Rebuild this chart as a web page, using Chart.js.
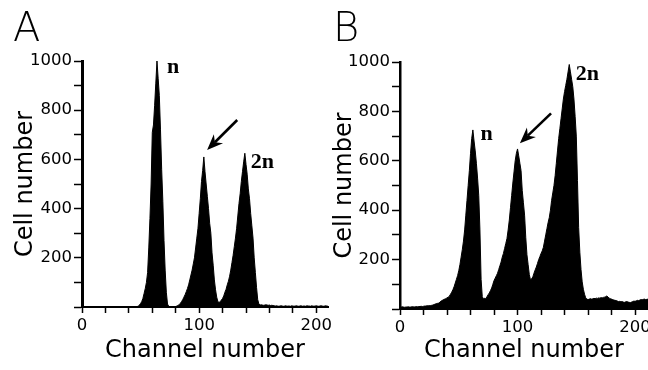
<!DOCTYPE html>
<html><head><meta charset="utf-8">
<script src="https://cdn.jsdelivr.net/npm/chart.js@4/dist/chart.umd.min.js"></script>
<style>
html,body{margin:0;padding:0;background:#fff;width:648px;height:370px;overflow:hidden}
#ca{position:absolute;left:0;top:0}
#cb{position:absolute;left:318px;top:0}
</style></head><body>
<canvas id="ca" width="340" height="370"></canvas>
<canvas id="cb" width="330" height="370"></canvas>
<script>
// ---- data (index = channel number) ----
const panelLetters = ['A', 'B'];
const xTickLabels = [0, 100, 200];
const yTickLabels = [200, 400, 600, 800, 1000];
const xAxisTitle = 'Channel number';
const yAxisTitle = 'Cell number';

const countsA = [
  0,0,0,0,0,0,0,0,0,0,
  0,0,0,0,0,0,0,0,0,0,
  0,0,0,0,0,0,0,0,0,0,
  0,0,0,0,0,0,0,0,0,0,
  0,1,1,1,2,2,2,2,3,8,
  14,22,35,55,75,100,140,240,360,500,
  710,740,820,910,1000,930,860,720,560,430,
  270,150,60,12,3,1,0,0,1,1,
  2,4,6,10,15,22,30,40,50,62,
  75,90,110,130,150,175,200,240,280,320,
  380,440,510,555,610,550,500,450,400,340,
  300,220,170,110,70,40,22,18,22,28,
  35,45,60,72,90,105,125,150,180,210,
  245,280,320,370,420,460,510,550,590,625,
  580,540,480,440,380,330,280,200,140,80,
  30,12,8,9,8,7,8,9,8,7,
  8,6,7,6,5,4,5,4,3,4,
  5,4,3,4,5,3,4,4,3,5,
  4,3,4,5,4,3,4,5,3,4,
  4,3,5,4,4,3,5,4,3,4,
  5,4,3,4,5,4,3,4,5,4,3
];

const countsB = [
  8,8,9,8,7,8,8,9,8,8,
  9,9,8,9,10,9,10,10,11,10,
  11,12,12,13,13,14,14,15,16,18,
  20,22,23,24,28,32,35,38,40,42,
  45,48,52,60,68,78,90,105,120,135,
  155,180,210,240,275,320,380,440,500,560,
  630,690,725,680,640,590,530,460,320,120,
  50,40,45,40,50,58,65,75,85,100,
  115,125,135,145,160,175,190,210,225,245,
  265,285,320,360,410,460,510,555,600,630,
  648,620,590,560,480,430,380,290,220,180,
  140,118,122,130,145,158,170,185,200,212,
  225,235,250,275,300,325,350,370,400,440,
  470,500,540,590,640,690,730,770,810,850,
  880,905,930,960,990,960,930,900,850,780,
  700,520,330,230,160,110,80,60,45,40,
  38,40,42,40,41,43,42,44,43,45,
  44,46,45,47,48,50,53,48,44,42,
  40,38,36,35,34,32,30,31,29,30,
  28,27,29,30,28,27,26,28,30,32,
  31,33,35,34,36,38,37,39,40,38,
  39,40
];

// peak labels [text, channel, count] and arrows [fromChannel, fromCount, toChannel, toCount]
const peakLabelsA = [['n', 72.6, 951], ['2n', 144.0, 565]];
const peakLabelsB = [['n', 68.4, 684], ['2n', 149.6, 927]];
const arrowA = [132.5, 760, 106.8, 638];
const arrowB = [128.5, 792, 102, 671];

// ---- drawing ----
const annotPlugin = {
  id: 'annot',
  afterDatasetsDraw(chart, args, o) {
    const {ctx} = chart;
    const x = chart.scales.x, y = chart.scales.y;
    ctx.save();
    ctx.fillStyle = '#000';
    ctx.strokeStyle = '#000';
    ctx.font = 'bold 22px "Liberation Serif"';
    ctx.textAlign = 'left';
    ctx.textBaseline = 'alphabetic';
    o.labels.forEach(l => ctx.fillText(l[0], x.getPixelForValue(l[1]), y.getPixelForValue(l[2])));
    const a = o.arrow;
    const x0 = x.getPixelForValue(a[0]), y0 = y.getPixelForValue(a[1]);
    const x1 = x.getPixelForValue(a[2]), y1 = y.getPixelForValue(a[3]);
    const ang = Math.atan2(y1 - y0, x1 - x0);
    const c = Math.cos(ang), s = Math.sin(ang);
    const headLen = 16, headW = 6.5, notch = 11;
    ctx.lineWidth = 2.6;
    ctx.beginPath();
    ctx.moveTo(x0, y0);
    ctx.lineTo(x1 - notch * c, y1 - notch * s);
    ctx.stroke();
    const bx = x1 - headLen * c, by = y1 - headLen * s;
    ctx.beginPath();
    ctx.moveTo(x1, y1);
    ctx.lineTo(bx - s * headW, by + c * headW);
    ctx.lineTo(x1 - notch * c, y1 - notch * s);
    ctx.lineTo(bx + s * headW, by - c * headW);
    ctx.closePath();
    ctx.fill();
    ctx.restore();
  }
};

function makeChart(id, letter, counts, labels, arrow, cfg) {
  const pts = counts.map((v, i) => ({x: i, y: v}));
  return new Chart(document.getElementById(id), {
    type: 'line',
    data: {datasets: [{
      data: pts, fill: 'origin', backgroundColor: '#000', borderColor: '#000',
      borderWidth: 1, pointRadius: 0, tension: 0
    }]},
    plugins: [annotPlugin],
    options: {
      responsive: false, animation: false, devicePixelRatio: 1,
      layout: {padding: {left: cfg.padL, right: cfg.padR, top: 0, bottom: 0}},
      plugins: {
        legend: {display: false}, tooltip: {enabled: false},
        title: {display: true, text: letter, align: 'start', color: '#000',
          font: {family: 'DejaVu Sans', size: 40, weight: '200', lineHeight: 1.2},
          padding: {top: 7, bottom: cfg.titleBottom}},
        annot: {labels: labels, arrow: arrow}
      },
      scales: {
        x: {
          type: 'linear', min: 0, max: cfg.xMax,
          border: {display: true, color: '#000', width: 2},
          grid: {display: true, drawOnChartArea: false, drawTicks: true, tickLength: 6, tickColor: '#000', tickWidth: 1.5},
          ticks: {stepSize: 20, includeBounds: false, autoSkip: false, maxRotation: 0, color: '#000', padding: 3,
            font: {family: 'DejaVu Sans', size: 16.5},
            callback: v => xTickLabels.includes(Math.round(v)) ? String(Math.round(v)) : ''},
          title: {display: true, text: xAxisTitle, color: '#000',
            font: {family: 'DejaVu Sans', size: 24, lineHeight: 1}, padding: {top: 0, bottom: 7}},
          afterFit: sc => { sc.height = cfg.xH; sc.paddingRight = 0; }
        },
        y: {
          min: 0, max: 1000,
          border: {display: true, color: '#000', width: cfg.yBorder},
          grid: {display: true, drawOnChartArea: false, drawTicks: true, tickLength: 8, tickColor: '#000', tickWidth: 1.5},
          ticks: {stepSize: 100, autoSkip: false, color: '#000', padding: 2,
            font: {family: 'DejaVu Sans', size: 16.5},
            callback: v => yTickLabels.includes(v) ? String(v) : ''},
          title: {display: true, text: yAxisTitle, color: '#000',
            font: {family: 'DejaVu Sans', size: 24, lineHeight: 1}, padding: {top: cfg.yTitlePad, bottom: 0}},
          afterFit: sc => { sc.width = cfg.yW; }
        }
      }
    }
  });
}

makeChart('ca', panelLetters[0], countsA, peakLabelsA, arrowA,
  {padL: 13, padR: 12, xMax: 210, xH: 63, yW: 69, yBorder: 3, titleBottom: 6, yTitlePad: 1});
makeChart('cb', panelLetters[1], countsB, peakLabelsB, arrowB,
  {padL: 15, padR: 0, xMax: 211, xH: 61, yW: 67, yBorder: 2.5, titleBottom: 7, yTitlePad: 0});
</script>
</body></html>
